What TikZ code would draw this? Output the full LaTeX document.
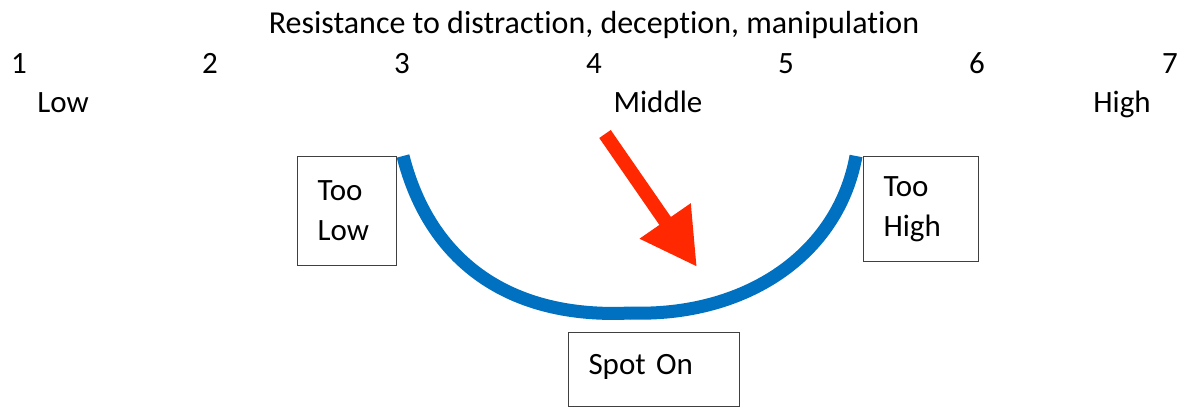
\documentclass[tikz,border=0pt]{standalone}
\usepackage{fontspec}
\setmainfont{Carlito}[Ligatures=NoCommon]
\usetikzlibrary{arrows.meta}

\definecolor{curveblue}{HTML}{0070C0}
\definecolor{arrowred}{HTML}{FF2800}

\begin{document}
\begin{tikzpicture}[x=1pt,y=-1pt]
\tikzset{
  scaletext/.style={anchor=base,inner sep=0pt,font=\fontsize{31}{40}\selectfont},
  labelbox/.style={draw=black!75,line width=1pt,anchor=north west,align=left,inner xsep=20pt,inner ysep=0pt,font=\fontsize{31}{40}\selectfont},
  spotcurve/.style={draw=curveblue,line width=13pt,line cap=butt},
  pointer/.style={draw=arrowred,line width=14pt,-{Triangle[length=56pt,width=58pt,fill=arrowred]}}
}
\useasboundingbox (0,0) rectangle (1190,407);
% title and scale
\node[scaletext,font=\fontsize{32}{40}\selectfont] (n_title) at (594,33) {Resistance to distraction, deception, manipulation};
\node[scaletext] (n_s1) at (19,73) {1};
\node[scaletext] (n_s2) at (210,73) {2};
\node[scaletext] (n_s3) at (402,73) {3};
\node[scaletext] (n_s4) at (594,73) {4};
\node[scaletext] (n_s5) at (786,73) {5};
\node[scaletext] (n_s6) at (977,73) {6};
\node[scaletext] (n_s7) at (1170,73) {7};
\node[scaletext] (n_low) at (63,112) {Low};
\node[scaletext] (n_mid) at (658,112) {Middle};
\node[scaletext] (n_high) at (1122,112) {High};
% boxes
\node[labelbox,minimum width=99pt,minimum height=109pt,text width=59pt] (n_toolow) at (297,156) {Too\\Low};
\node[labelbox,minimum width=115pt,minimum height=105pt,text width=75pt] (n_toohigh) at (863,156) {Too\\High};
\node[labelbox,minimum width=171pt,minimum height=74pt,text width=131pt,text depth=10pt] (n_spoton) at (568,332) {Spot On};
% curve
\coordinate (c_left) at (403,156);
\coordinate (c_mid) at (630,313);
\coordinate (c_right) at (856,156);
\draw[spotcurve] (c_left) .. controls (430,262) and (510,319) .. (c_mid);
\draw[spotcurve] (c_mid) .. controls (745,317) and (838,255) .. (c_right);
% arrow
\coordinate (a_tail) at (605,134);
\coordinate (a_tip) at (697,267);
\draw[pointer] (a_tail) -- (a_tip);
\end{tikzpicture}
\end{document}
